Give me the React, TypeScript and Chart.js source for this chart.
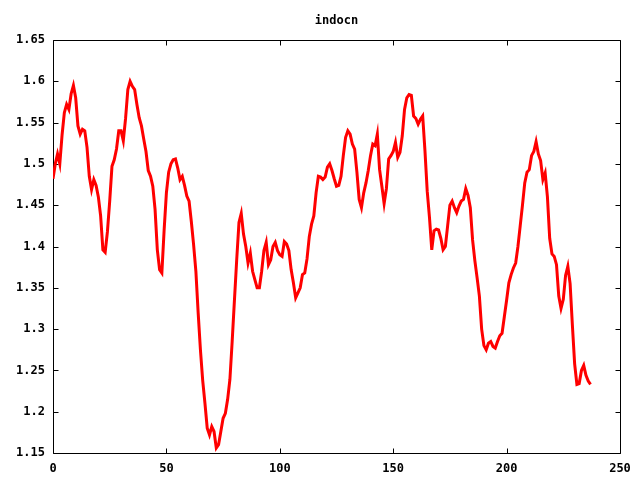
import React, { useEffect, useRef } from "react";
import { Chart, registerables } from "chart.js";

Chart.register(...registerables);

const TITLE = "indocn";
const X_TICKS = [0, 50, 100, 150, 200, 250];
const Y_TICKS = [1.15, 1.2, 1.25, 1.3, 1.35, 1.4, 1.45, 1.5, 1.55, 1.6, 1.65];

const VALUES = [
  1.482, 1.5, 1.512, 1.5, 1.535, 1.562, 1.572, 1.566, 1.585, 1.595,
  1.58, 1.546, 1.536, 1.542, 1.54, 1.52, 1.485, 1.469, 1.481, 1.474,
  1.46, 1.437, 1.396, 1.393, 1.418, 1.455, 1.497, 1.505, 1.518, 1.54,
  1.54, 1.528, 1.555, 1.59, 1.6, 1.594, 1.59, 1.572, 1.556, 1.546,
  1.53, 1.515, 1.492, 1.485, 1.473, 1.445, 1.396, 1.372, 1.368, 1.42,
  1.465, 1.49, 1.5, 1.505, 1.506, 1.495, 1.481, 1.485, 1.474, 1.461,
  1.455, 1.43, 1.402, 1.37, 1.32, 1.275, 1.238, 1.21, 1.18, 1.172,
  1.182, 1.176, 1.156, 1.16, 1.176, 1.192, 1.198, 1.215, 1.239, 1.285,
  1.335, 1.384, 1.429, 1.44, 1.415, 1.4, 1.38, 1.392, 1.37, 1.36,
  1.35, 1.35, 1.37, 1.395, 1.405, 1.378, 1.384, 1.4, 1.405, 1.395,
  1.39, 1.388, 1.406, 1.403, 1.395, 1.372, 1.356, 1.338, 1.344, 1.35,
  1.366, 1.368, 1.385, 1.412, 1.427, 1.437, 1.465, 1.485, 1.484, 1.481,
  1.484, 1.496, 1.5, 1.492, 1.482, 1.473, 1.474, 1.485, 1.51, 1.532,
  1.54, 1.536, 1.524, 1.518, 1.49, 1.457, 1.447, 1.465, 1.477, 1.492,
  1.51, 1.524, 1.522, 1.536, 1.493, 1.473, 1.452, 1.47, 1.506, 1.51,
  1.515, 1.526, 1.508, 1.514, 1.534, 1.566, 1.58, 1.584, 1.583, 1.558,
  1.555, 1.548, 1.554, 1.558, 1.516, 1.467, 1.435, 1.396, 1.419, 1.421,
  1.42, 1.41, 1.396, 1.4, 1.425, 1.45, 1.455, 1.447, 1.441, 1.449,
  1.455, 1.457, 1.47, 1.462, 1.447, 1.408, 1.383, 1.362, 1.34, 1.3,
  1.28, 1.275, 1.283, 1.285, 1.279, 1.277, 1.285, 1.292, 1.295, 1.315,
  1.335, 1.356, 1.366, 1.374, 1.38, 1.4, 1.425, 1.45, 1.477, 1.49,
  1.493, 1.51, 1.515, 1.527, 1.512, 1.504, 1.481, 1.489, 1.46, 1.41,
  1.391, 1.388, 1.378, 1.34, 1.325, 1.336, 1.365, 1.376, 1.355, 1.305,
  1.258, 1.233, 1.234, 1.25, 1.256, 1.244, 1.237, 1.233,
];

const FONT = "DejaVu Sans Mono";

const framePlugin = {
  id: "gnuplotFrame",
  beforeDatasetsDraw(chart: any) {
    const { ctx, chartArea, scales } = chart;
    const L = Math.round(chartArea.left) + 0.5;
    const R = Math.round(chartArea.right) + 0.5;
    const T = Math.round(chartArea.top) + 0.5;
    const B = Math.round(chartArea.bottom) + 0.5;
    const tl = 5;
    ctx.save();
    ctx.strokeStyle = "#000";
    ctx.lineWidth = 1;
    ctx.beginPath();
    ctx.rect(L, T, R - L, B - T);
    X_TICKS.forEach((t) => {
      const px = Math.round(scales.x.getPixelForValue(t)) + 0.5;
      ctx.moveTo(px, B);
      ctx.lineTo(px, B - tl);
      ctx.moveTo(px, T);
      ctx.lineTo(px, T + tl);
    });
    Y_TICKS.forEach((t) => {
      const py = Math.round(scales.y.getPixelForValue(t)) + 0.5;
      ctx.moveTo(L, py);
      ctx.lineTo(L + tl, py);
      ctx.moveTo(R, py);
      ctx.lineTo(R - tl, py);
    });
    ctx.stroke();
    ctx.fillStyle = "#000";
    ctx.font = `bold 12px "${FONT}"`;
    ctx.textAlign = "center";
    ctx.textBaseline = "middle";
    ctx.fillText(TITLE, (chartArea.left + chartArea.right) / 2, 21);
    ctx.restore();
  },
};

function fmt(v: number) {
  return parseFloat(Number(v).toFixed(2)).toString();
}

export default function App() {
  const ref = useRef<HTMLCanvasElement | null>(null);
  useEffect(() => {
    if (!ref.current) return;
    const chart = new Chart(ref.current, {
      type: "line",
      data: {
        datasets: [
          {
            label: TITLE,
            data: VALUES.map((v, i) => ({ x: i, y: v })),
            borderColor: "#ff0000",
            borderWidth: 3,
            pointRadius: 0,
            tension: 0,
            fill: false,
          },
        ],
      },
      options: {
        responsive: false,
        animation: false,
        events: [],
        layout: { padding: { top: 40, right: 20, left: 0, bottom: 0 } },
        plugins: {
          legend: { display: false },
          title: { display: false },
          tooltip: { enabled: false },
        },
        scales: {
          x: {
            type: "linear",
            min: 0,
            max: 250,
            grid: { display: false, drawTicks: false },
            border: { display: false },
            afterFit: (s: any) => {
              s.height = 27;
            },
            afterBuildTicks: (s: any) => {
              s.ticks = X_TICKS.map((v) => ({ value: v }));
            },
            ticks: {
              padding: 9,
              maxRotation: 0,
              color: "#000",
              font: { family: FONT, size: 12, weight: "bold" },
              callback: (v: any) => String(v),
            },
          },
          y: {
            type: "linear",
            min: 1.15,
            max: 1.65,
            grid: { display: false, drawTicks: false },
            border: { display: false },
            afterFit: (s: any) => {
              s.width = 53;
            },
            afterBuildTicks: (s: any) => {
              s.ticks = Y_TICKS.map((v) => ({ value: v }));
            },
            ticks: {
              padding: 8,
              color: "#000",
              font: { family: FONT, size: 12, weight: "bold" },
              callback: (v: any) => fmt(v),
            },
          },
        },
      },
      plugins: [framePlugin],
    } as any);
    return () => chart.destroy();
  }, []);
  return (
    <div style={{ position: "fixed", left: 0, top: 0, width: 640, height: 480, background: "#fff" }}>
      <canvas ref={ref} width={640} height={480} style={{ display: "block" }} />
    </div>
  );
}
